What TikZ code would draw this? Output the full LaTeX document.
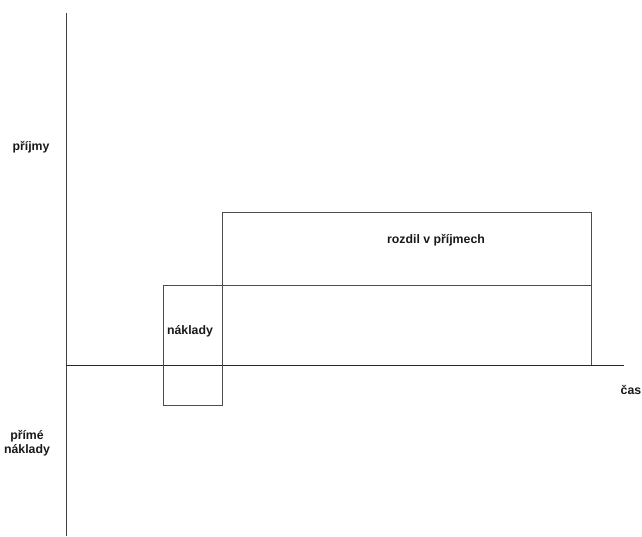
\documentclass[tikz,border=0pt]{standalone}
\usepackage{fontspec}
\setmainfont{Liberation Sans}
\begin{document}
\begin{tikzpicture}[x=1pt,y=-1pt,
  lbl/.style={font=\bfseries\fontsize{12.3}{14.5}\selectfont, text=black!90, inner sep=0pt, align=center},
  ln/.style={line width=1pt, draw=black!70}]
\useasboundingbox (0,0) rectangle (642,536);
% axes
\coordinate (ytop) at (66,13);
\coordinate (ybot) at (66,536);
\coordinate (xl) at (66,365);
\coordinate (xr) at (624,365);
\draw[ln, draw=black!75] (ytop) -- (ybot);
\draw[ln, draw=black!85] (xl) -- (xr);
% boxes
\coordinate (n1) at (163,285);
\coordinate (n2) at (222,405);
\coordinate (r1) at (222,212);
\coordinate (r2) at (591,285);
\coordinate (s2) at (591,365);
\draw[ln] (n1) rectangle (n2);
\draw[ln] (r1) rectangle (r2);
\draw[ln] (r2) -- (s2);
% labels
\node[lbl] (prijmy) at (31,147) {příjmy};
\node[lbl] (prime) at (27,443) {přímé\\náklady};
\node[lbl] (naklady) at (190,331) {náklady};
\node[lbl] (rozdil) at (436,240) {rozdil v příjmech};
\node[lbl] (cas) at (631,390) {čas};
\end{tikzpicture}
\end{document}
